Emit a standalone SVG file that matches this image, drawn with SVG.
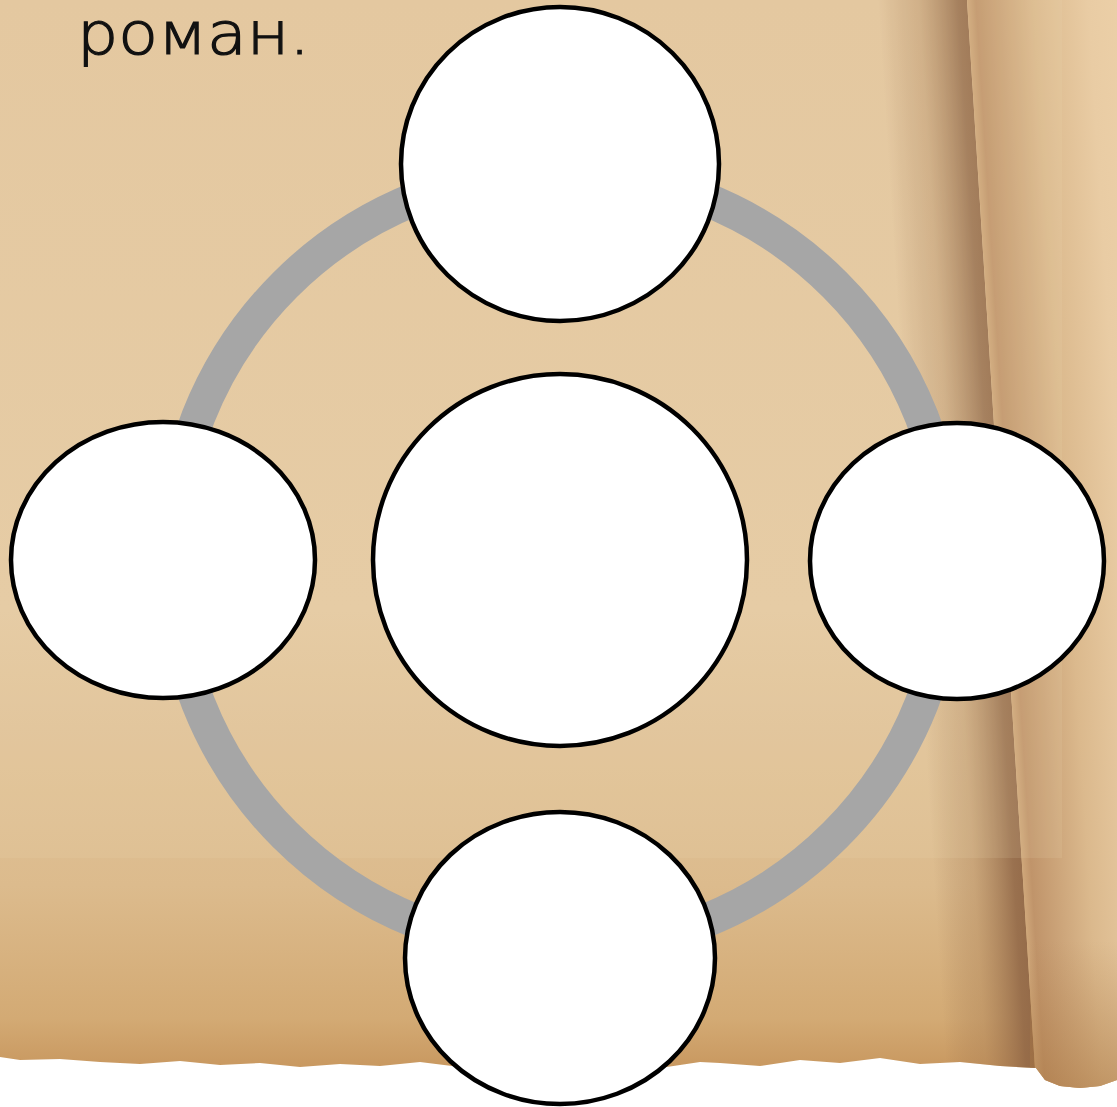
<svg xmlns="http://www.w3.org/2000/svg" width="1117" height="1107" viewBox="0 0 1117 1107">
<defs>
<clipPath id="paper">
<path d="M0,0 H1117 V1080 L1100,1086 L1080,1088 L1060,1086 L1045,1080 L1036,1068 L1000,1066 L960,1062 L920,1064 L880,1058 L840,1063 L800,1060 L760,1066 L720,1063 L700,1062 L660,1068 L620,1060 L580,1066 L540,1068 L500,1064 L460,1067 L420,1062 L380,1066 L340,1064 L300,1067 L260,1063 L220,1065 L180,1061 L140,1064 L100,1062 L60,1059 L20,1060 L0,1057 Z"/>
</clipPath>
<linearGradient id="bgV" x1="0" y1="0" x2="0" y2="1">
<stop offset="0" stop-color="#e3c59d"/>
<stop offset="0.55" stop-color="#e5c9a2"/>
<stop offset="0.8" stop-color="#dcbb8d"/>
<stop offset="0.92" stop-color="#d3aa74"/>
<stop offset="1" stop-color="#c08a50"/>
</linearGradient>
<linearGradient id="shadow" x1="0" y1="0" x2="1" y2="0">
<stop offset="0" stop-color="#8e6444" stop-opacity="0"/>
<stop offset="0.45" stop-color="#a57a52" stop-opacity="0.35"/>
<stop offset="0.9" stop-color="#8e6444" stop-opacity="0.85"/>
<stop offset="1" stop-color="#8e6444" stop-opacity="0.9"/>
</linearGradient>
<linearGradient id="curl" x1="0" y1="0" x2="1" y2="0">
<stop offset="0" stop-color="#cfa77a"/>
<stop offset="0.04" stop-color="#c0946a"/>
<stop offset="0.3" stop-color="#dbb98d"/>
<stop offset="0.55" stop-color="#e9cca4"/>
<stop offset="1" stop-color="#f1d6ae"/>
</linearGradient>
<linearGradient id="curlBottom" x1="0" y1="0" x2="0" y2="1">
<stop offset="0" stop-color="#b07f4c" stop-opacity="0"/>
<stop offset="0.85" stop-color="#b07f4c" stop-opacity="0"/>
<stop offset="1" stop-color="#a8743f" stop-opacity="0.6"/>
</linearGradient>
<style>
.node{fill:#ffffff;stroke:#000000;stroke-width:4.5}
.ring{fill:none;stroke:#a6a6a6;stroke-width:34}
.title{font-family:"DejaVu Sans","Liberation Sans",sans-serif;font-weight:200;font-size:58px;fill:#111111;stroke:#111111;stroke-width:1.2}
</style>
</defs>
<rect width="1117" height="1107" fill="#ffffff"/>
<g id="background" clip-path="url(#paper)">
<rect x="0" y="0" width="1117" height="1107" fill="url(#bgV)"/>
<g transform="skewX(3.64)">
<rect x="878" y="0" width="89" height="1107" fill="url(#shadow)"/>
<rect x="967" y="0" width="220" height="1107" fill="url(#curl)"/>
</g>
<rect x="0" y="0" width="1062" height="858" fill="#f3ddbd" opacity="0.13"/>
<rect x="1030" y="0" width="87" height="1107" fill="url(#curlBottom)"/>
</g>
<text class="title" x="77" y="54" textLength="233" lengthAdjust="spacingAndGlyphs">роман.</text>
<g id="connectors">
<circle class="ring" cx="560" cy="560" r="389"/>
</g>
<g id="node-top"><ellipse class="node" cx="560" cy="164" rx="159" ry="157"/></g>
<g id="node-center"><ellipse class="node" cx="560" cy="560" rx="187" ry="186"/></g>
<g id="node-left"><ellipse class="node" cx="163" cy="560" rx="152" ry="138"/></g>
<g id="node-right"><ellipse class="node" cx="957" cy="561" rx="147" ry="138"/></g>
<g id="node-bottom"><ellipse class="node" cx="560" cy="958" rx="155" ry="146"/></g>
</svg>
